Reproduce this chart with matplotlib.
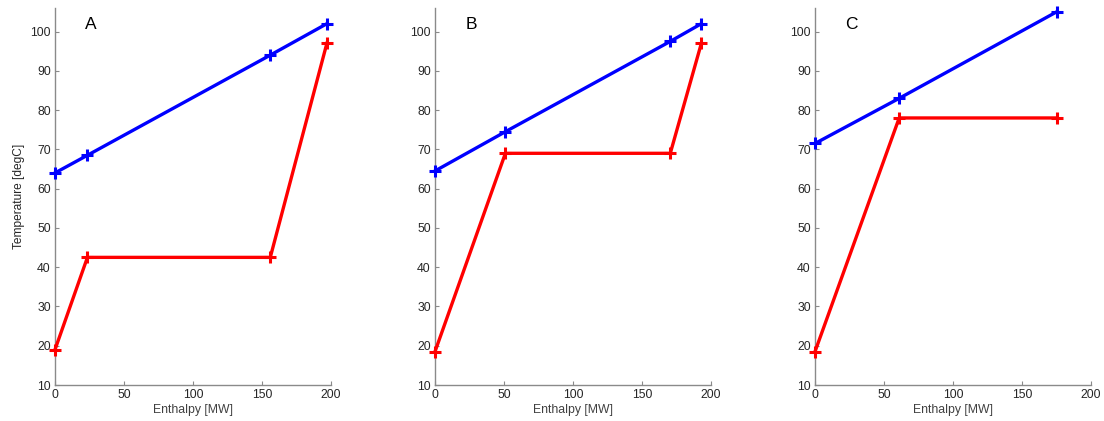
import matplotlib
matplotlib.use("Agg")
import matplotlib.pyplot as plt

plt.rcParams['font.family'] = ['Liberation Sans', 'DejaVu Sans']

# Enthalpy [MW] and temperature [degC] per case
labels = ["A", "B", "C"]

hot_h = [[0, 23.5, 156, 197], [0, 51, 170.5, 193], [0, 61, 175]]
hot_t = [[64, 68.5, 94, 102], [64.5, 74.5, 97.5, 102], [71.5, 83, 105]]

cold_h = [[0, 23.5, 156, 197], [0, 51, 170.5, 193], [0, 61, 175]]
cold_t = [[19, 42.5, 42.5, 97], [18.5, 69, 69, 97], [18.5, 78, 78]]

xticks = [0, 50, 100, 150, 200]
yticks = [10, 20, 30, 40, 50, 60, 70, 80, 90, 100]

fig = plt.figure(figsize=(11.04, 4.21), dpi=100)
W, H = 1104, 421
lefts = [55, 435, 815]
axw = 276
top, bottom = 8, 385

for i, lab in enumerate(labels):
    ax = fig.add_axes([lefts[i] / W, 1 - bottom / H, axw / W, (bottom - top) / H])
    ax.plot(hot_h[i], hot_t[i], color='#0000ff', lw=2.4, marker='+', ms=8, mew=2.2,
            clip_on=False, zorder=3)
    ax.plot(cold_h[i], cold_t[i], color='#ff0000', lw=2.4, marker='+', ms=8, mew=2.2,
            clip_on=False, zorder=3)
    ax.set_xlim(0, 200)
    ax.set_ylim(10, 106)
    ax.set_xticks(xticks)
    ax.set_yticks(yticks)
    for s in ['top', 'right']:
        ax.spines[s].set_visible(False)
    for s in ['left', 'bottom']:
        ax.spines[s].set_color('#8a8a8a')
        ax.spines[s].set_linewidth(1.0)
    ax.tick_params(direction='in', length=3, color='#8a8a8a', labelsize=8.8,
                   labelcolor='#262626', pad=3)
    ax.set_xlabel('Enthalpy [MW]', fontsize=8.8, color='#404040', labelpad=2)
    if i == 0:
        ax.set_ylabel('Temperature [degC]', fontsize=8.6, color='#262626', labelpad=4)
    ax.text(0.13, 0.955, lab, transform=ax.transAxes, fontsize=12.5,
            color='black', ha='center', va='center')
    ax.patch.set_visible(False)

fig.savefig('out.png', dpi=100)
